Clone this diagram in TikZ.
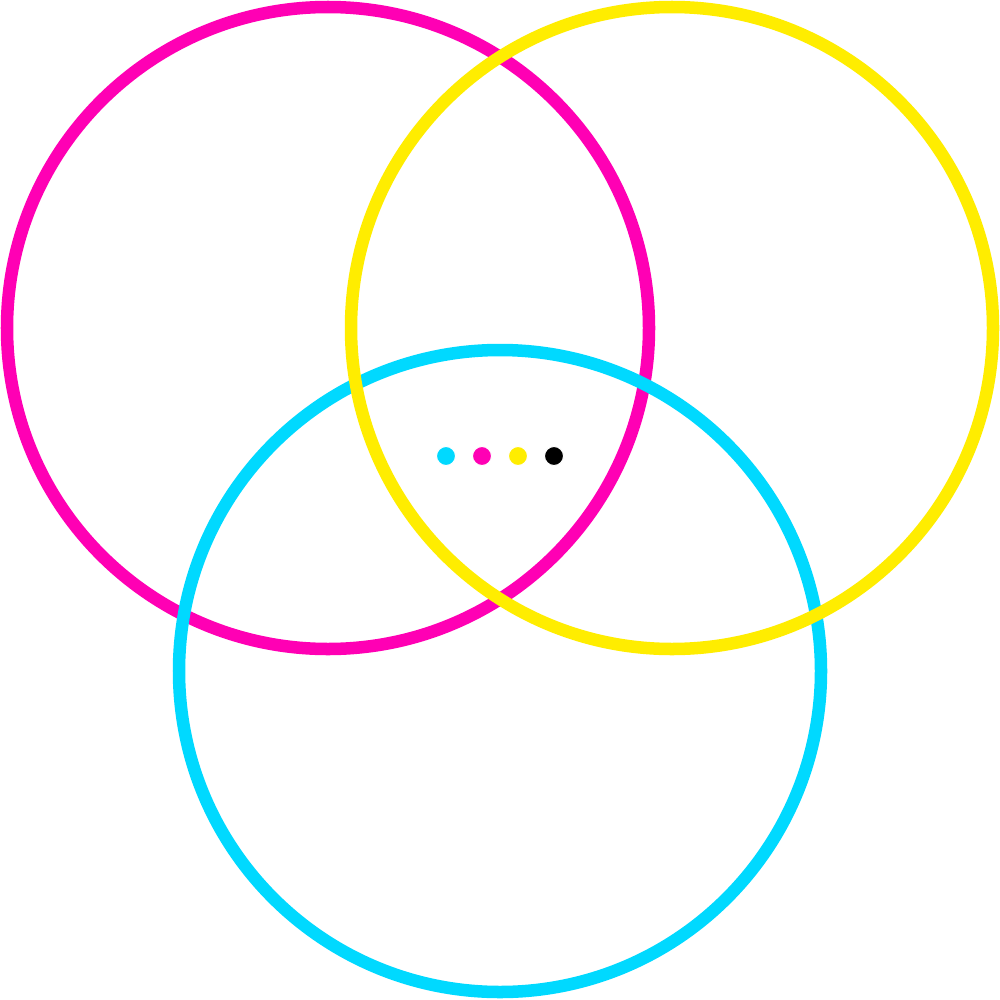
\documentclass[tikz,border=0pt]{standalone}
\definecolor{cmag}{RGB}{255,0,180}
\definecolor{ccyan}{RGB}{0,217,255}
\definecolor{cyel}{RGB}{255,237,0}
\begin{document}
\begin{tikzpicture}[x=0.01cm,y=-0.01cm,
  ring/.style={line width=0.125cm},
  dot/.style={circle,inner sep=0pt,minimum size=0.19cm,draw=white,line width=0.3pt}]
\useasboundingbox[fill=white] (0,0) rectangle (1000,1000);
\draw[ring,cmag] (328,328) circle[radius=321];
\draw[ring,ccyan] (500,671) circle[radius=321];
\draw[ring,cyel] (672,328) circle[radius=321];
\node[dot,fill=ccyan] (d1) at (446,456) {};
\node[dot,fill=cmag] (d2) at (482,456) {};
\node[dot,fill=cyel] (d3) at (518,456) {};
\node[dot,fill=black] (d4) at (554,456) {};
\end{tikzpicture}
\end{document}
